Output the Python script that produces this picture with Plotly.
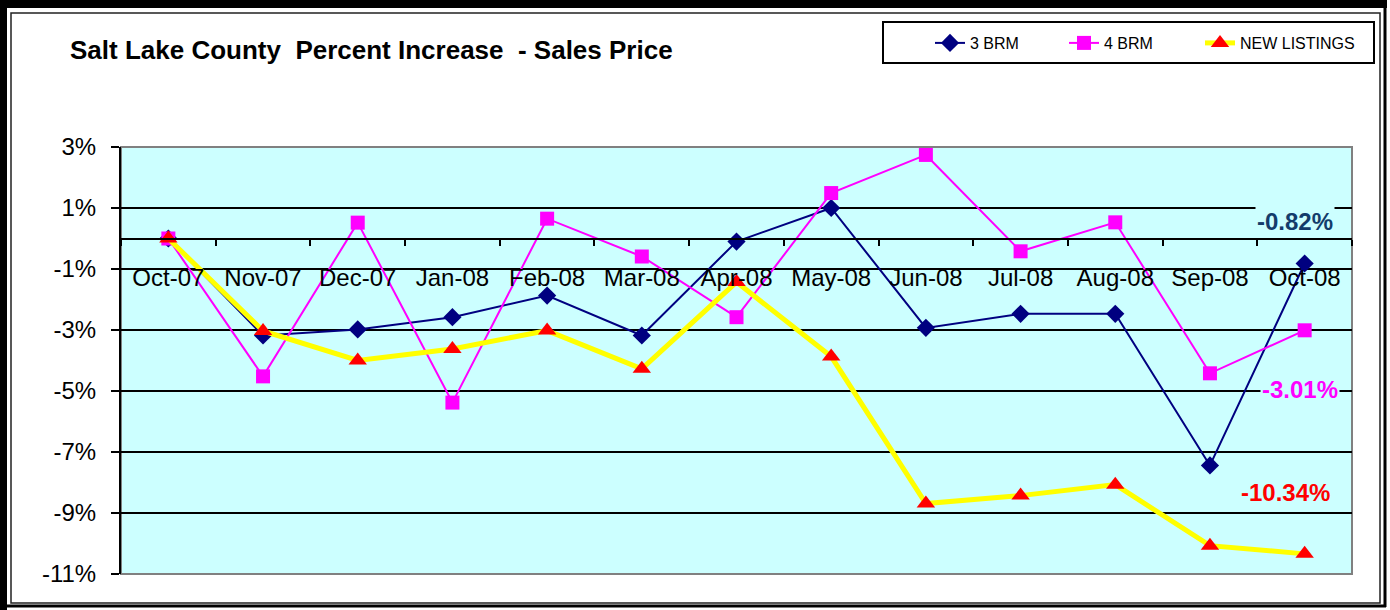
import plotly.graph_objects as go

# ---------------- data ----------------
months = ["Oct-07", "Nov-07", "Dec-07", "Jan-08", "Feb-08", "Mar-08", "Apr-08",
          "May-08", "Jun-08", "Jul-08", "Aug-08", "Sep-08", "Oct-08"]
brm3 = [0.0, -3.18, -2.98, -2.58, -1.87, -3.18, -0.10, 1.00, -2.93, -2.47, -2.47, -7.44, -0.82]
brm4 = [0.0, -4.52, 0.52, -5.38, 0.65, -0.59, -2.58, 1.49, 2.74, -0.42, 0.53, -4.42, -3.01]
new_listings = [0.0, -3.03, -4.00, -3.62, -3.02, -4.27, -1.43, -3.87, -8.69, -8.43, -8.07, -10.07, -10.34]
series_names = ["3 BRM", "4 BRM", "NEW LISTINGS"]
y_tick_vals = [3, 1, -1, -3, -5, -7, -9, -11]
y_tick_text = ["3%", "1%", "-1%", "-3%", "-5%", "-7%", "-9%", "-11%"]
title_text = "Salt Lake County  Percent Increase  - Sales Price"

# ---------------- geometry ----------------
W, H = 1390, 610
L, R, T, B = 121, 1352, 147, 574   # plot area in pixels
PW, PH = R - L, B - T

def px(x):
    return (x - L) / PW

def py(y):
    return (B - y) / PH

FONT = "Liberation Sans, Arial, sans-serif"
YMIN, YMAX = -11, 3

fig = go.Figure()
fig.add_trace(go.Scatter(
    x=months, y=brm3, name=series_names[0], mode="lines+markers",
    line=dict(color="#000080", width=2), legend="legend",
    marker=dict(symbol="diamond", size=14, color="#000080")))
fig.add_trace(go.Scatter(
    x=months, y=brm4, name=series_names[1], mode="lines+markers",
    line=dict(color="#FF00FF", width=2), legend="legend2",
    marker=dict(symbol="square", size=14, color="#FF00FF")))
fig.add_trace(go.Scatter(
    x=months, y=new_listings, name=series_names[2], mode="lines+markers",
    line=dict(color="#FFFF00", width=5), legend="legend3",
    marker=dict(symbol="triangle-up", size=16, color="#FF0000")))

shapes = []
# plot-area border (gray)
shapes.append(dict(type="rect", xref="paper", yref="paper", x0=0, x1=1, y0=0, y1=1,
                   line=dict(color="#808080", width=2), layer="between"))
# outer frame: thick left / top
shapes.append(dict(type="rect", xref="paper", yref="paper",
                   x0=px(0), x1=px(7), y0=py(610), y1=py(0),
                   line=dict(width=0), fillcolor="black", layer="above"))
shapes.append(dict(type="rect", xref="paper", yref="paper",
                   x0=px(0), x1=px(1387), y0=py(8), y1=py(0),
                   line=dict(width=0), fillcolor="black", layer="above"))
# outer frame right / bottom
shapes.append(dict(type="line", xref="paper", yref="paper",
                   x0=px(1385), x1=px(1385), y0=py(0), y1=py(607),
                   line=dict(color="black", width=3), layer="above"))
shapes.append(dict(type="line", xref="paper", yref="paper",
                   x0=px(0), x1=px(1386), y0=py(606), y1=py(606),
                   line=dict(color="black", width=3), layer="above"))
# inner thin frame
shapes.append(dict(type="rect", xref="paper", yref="paper",
                   x0=px(11), x1=px(1380), y0=py(603), y1=py(13),
                   line=dict(color="#222222", width=1.5), layer="above"))
# legend box
shapes.append(dict(type="rect", xref="paper", yref="paper",
                   x0=px(883), x1=px(1374), y0=py(63), y1=py(22),
                   line=dict(color="black", width=2), fillcolor="white", layer="above"))
fig.update_layout(shapes=shapes)

# end-of-series value labels
label_specs = [
    (brm3[-1], "#133C6B", 1295, 221.5),
    (brm4[-1], "#FF00FF", 1300, 389.5),
    (new_listings[-1], "#FF0000", 1285, 492),
]
for val, col, lx, ly in label_specs:
    fig.add_annotation(
        x=px(lx), y=py(ly), xref="paper", yref="paper",
        text="<b>%.2f%%</b>" % val, showarrow=False,
        font=dict(family=FONT, size=24, color=col),
        bgcolor="#CCFFFF", borderpad=1, xanchor="center", yanchor="middle")

def legend_at(xpix):
    return dict(orientation="h", xref="container", yref="container",
                x=xpix / W, y=1 - 26 / H, xanchor="left", yanchor="top",
                bgcolor="rgba(0,0,0,0)", borderwidth=0,
                font=dict(family=FONT, size=16, color="black"))

fig.update_layout(
    width=W, height=H,
    margin=dict(l=L, r=W - R, t=T, b=H - B, pad=0, autoexpand=False),
    paper_bgcolor="white",
    plot_bgcolor="#CCFFFF",
    font=dict(family=FONT, color="black"),
    title=dict(text="<b>%s</b>" % title_text, xref="container", yref="container",
               x=70 / W, xanchor="left", y=1 - 50 / H, yanchor="middle",
               font=dict(family=FONT, size=26, color="black")),
    showlegend=True,
    legend=legend_at(930),
    legend2=legend_at(1064),
    legend3=legend_at(1200),
    xaxis=dict(type="category", range=[-0.5, len(months) - 0.5],
               anchor="free", position=(0 - YMIN) / (YMAX - YMIN),
               showline=True, linecolor="black", linewidth=2,
               ticks="outside", tickson="boundaries", ticklen=6, tickwidth=2, tickcolor="black",
               showgrid=False, zeroline=False,
               ticklabelstandoff=18,
               tickfont=dict(family=FONT, size=24, color="black")),
    yaxis=dict(range=[YMIN, YMAX], tickvals=y_tick_vals, ticktext=y_tick_text,
               showline=True, linecolor="black", linewidth=2,
               ticks="outside", ticklen=8, tickwidth=2, tickcolor="black",
               showgrid=True, gridcolor="black", gridwidth=2,
               zeroline=False, ticklabelstandoff=10,
               tickfont=dict(family=FONT, size=24, color="black")),
)

fig.write_html("out.html", config={"displayModeBar": False},
               post_script="document.body.style.margin='0';document.body.style.overflow='hidden';")
